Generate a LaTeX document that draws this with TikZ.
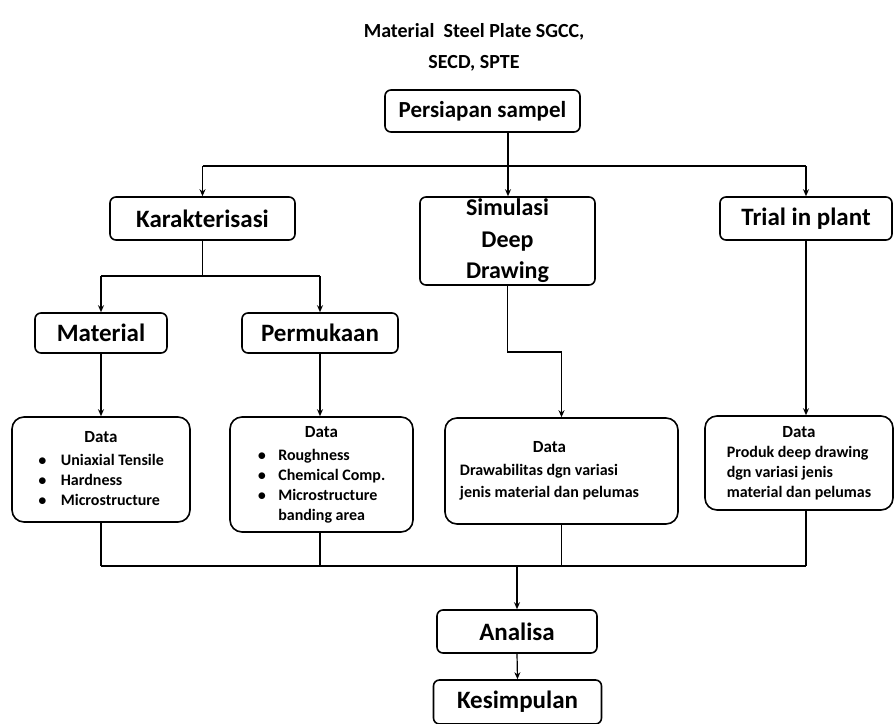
\documentclass[tikz,border=0pt]{standalone}
\usepackage{fontspec}
\setmainfont{Carlito}
\usetikzlibrary{arrows.meta}
\tikzset{
  box/.style={draw, line width=1.6pt, rounded corners=6pt, inner sep=0pt, align=center,
    font=\bfseries\fontsize{25}{28}\selectfont},
  databox/.style={draw, line width=1.6pt, rounded corners=12pt, inner sep=0pt, align=left,
    font=\bfseries\fontsize{16}{20}\selectfont},
  link/.style={line width=1.2pt},
  arr/.style={link, -{Stealth[length=7pt,width=6pt]}},
  titletext/.style={font=\bfseries\fontsize{20}{31}\selectfont, align=center, inner sep=0pt},
}
\newcommand{\dhead}{\multicolumn{2}{c}{\fontsize{17}{20}\selectfont Data}\\[3pt]}
\begin{document}
\begin{tikzpicture}[x=1pt,y=-1pt]
\useasboundingbox (0,0) rectangle (896,723);

\node[titletext] (title) at (474,47) {Material\ \ Steel Plate SGCC,\\SECD, SPTE};

\node[box, minimum width=195pt, minimum height=42pt, font=\bfseries\fontsize{23}{26}\selectfont] (persiapan) at (482.5,111) {Persiapan sampel};
\node[box, minimum width=185pt, minimum height=43pt] (karak) at (202.5,218.5) {Karakterisasi};
\node[box, minimum width=175pt, minimum height=88pt, font=\bfseries\fontsize{24}{31.5}\selectfont] (simul) at (507.5,241) {Simulasi\\Deep\\Drawing};
\node[box, minimum width=172pt, minimum height=43pt] (trial) at (806,218.5) {Trial in plant};
\node[box, minimum width=132pt, minimum height=40pt] (material) at (101,333) {Material};
\node[box, minimum width=156pt, minimum height=40pt] (permuk) at (320,333) {Permukaan};

\node[databox, minimum width=178pt, minimum height=105pt] (data1) at (101,469.5)
  {\begin{tabular}{@{}l@{\hspace{14pt}}l@{}}\dhead
   $\bullet$ & Uniaxial Tensile\\
   $\bullet$ & Hardness\\
   $\bullet$ & Microstructure
   \end{tabular}};
\node[databox, minimum width=183pt, minimum height=115pt] (data2) at (321.5,474.5)
  {\begin{tabular}{@{}l@{\hspace{12pt}}l@{}}\dhead
   $\bullet$ & Roughness\\
   $\bullet$ & Chemical Comp.\\
   $\bullet$ & Microstructure\\
    & banding area
   \end{tabular}};
\node[databox, minimum width=233pt, minimum height=106pt] (data3) at (561.5,471)
  {\begin{tabular}{@{}l@{}}\multicolumn{1}{c}{\fontsize{17}{20}\selectfont Data}\\[3pt]
   Drawabilitas dgn variasi\\[2pt]
   jenis material dan pelumas
   \end{tabular}\hspace{24pt}};
\node[databox, minimum width=188pt, minimum height=94pt] (data4) at (799,463)
  {\begin{tabular}{@{}l@{}}\multicolumn{1}{c}{\fontsize{17}{20}\selectfont Data}\\
   Produk deep drawing\\
   dgn variasi jenis\\
   material dan pelumas
   \end{tabular}};

\node[box, minimum width=160pt, minimum height=43pt] (analisa) at (517,631.5) {Analisa};
\node[box, minimum width=168pt, minimum height=44pt] (kesimp) at (517.5,702) {Kesimpulan};

% top branch
\coordinate (j1) at (508,166);
\draw[link] (persiapan.south -| j1) -- (j1);
\draw[link] (karak.north |- j1) -- (trial.north |- j1);
\draw[arr] (karak.north |- j1) -- (karak.north);
\draw[arr] (j1) -- (j1 |- simul.north);
\draw[arr] (trial.north |- j1) -- (trial.north);

% karakterisasi branch
\coordinate (j2) at (202.5,276);
\draw[link] (karak.south) -- (j2);
\draw[link] (material.north |- j2) -- (permuk.north |- j2);
\draw[arr] (material.north |- j2) -- (material.north);
\draw[arr] (permuk.north |- j2) -- (permuk.north);

% to data boxes
\draw[arr] (material.south) -- (data1.north);
\draw[arr] (permuk.south) -- (permuk.south |- data2.north);
\coordinate (j3) at (561.5,352);
\draw[arr] (simul.south) |- (j3) -- (data3.north);
\draw[arr] (trial.south) -- (trial.south |- data4.north);

% collecting line
\coordinate (j4) at (517,566);
\draw[link] (data1.south) -- (data1.south |- j4);
\draw[link] (permuk.south |- data2.south) -- (permuk.south |- j4);
\draw[link] (data3.south) -- (data3.south |- j4);
\draw[link] (trial.south |- data4.south) -- (trial.south |- j4);
\draw[link] (data1.south |- j4) -- (trial.south |- j4);
\draw[arr] (j4) -- (analisa.north);
\draw[arr] (analisa.south) -- (kesimp.north);
\end{tikzpicture}
\end{document}
